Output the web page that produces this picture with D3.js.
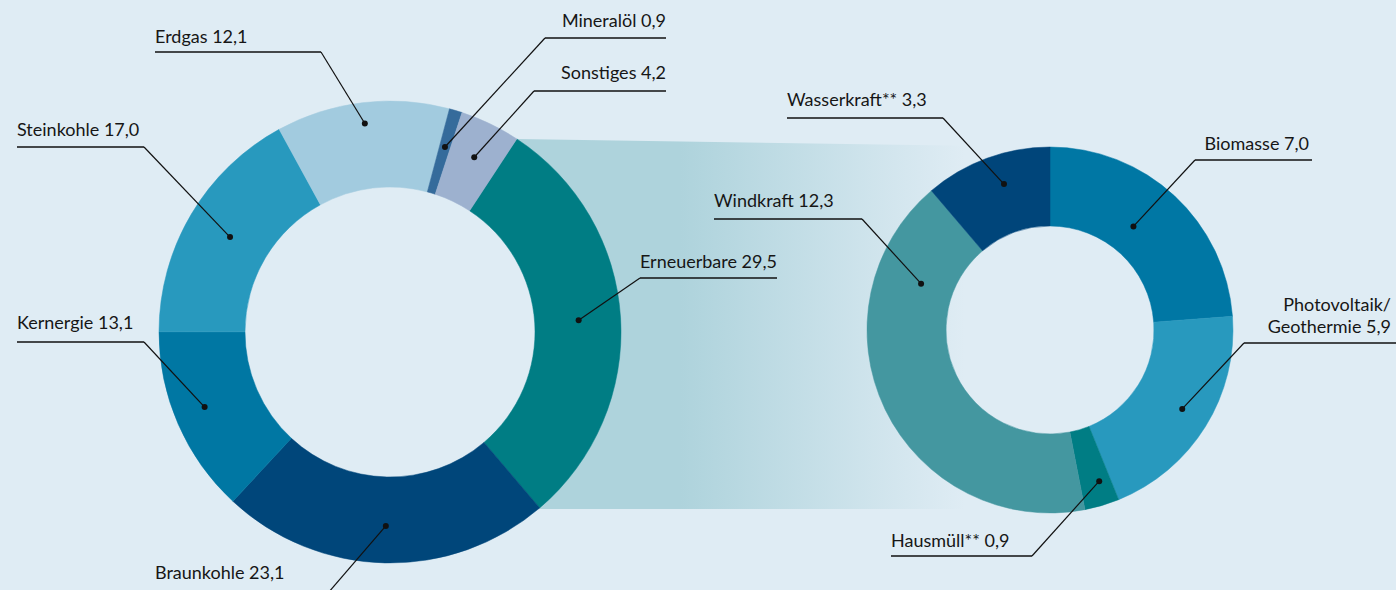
<!DOCTYPE html>
<html lang="de">
<head>
<meta charset="UTF-8">
<title>Stromerzeugung</title>
<script src="https://d3js.org/d3.v7.min.js"></script>
<style>
  html, body { margin: 0; padding: 0; background: #dfecf4; }
  svg { display: block; }
  text { font-family: Lato, "Open Sans", sans-serif; font-size: 18px; fill: #161616; }
</style>
</head>
<body>
<svg width="1396" height="590"></svg>
<script>
// Data: share of gross electricity generation (in %)
const mixLabels = ["Erneuerbare", "Braunkohle", "Kernergie", "Steinkohle", "Erdgas", "Mineralöl", "Sonstiges"];
const mixValues = [29.5, 23.1, 13.1, 17.0, 12.1, 0.9, 4.2];
const mixColors = ["#007d84", "#00467a", "#0077a3", "#2899be", "#a2cbdf", "#356b9b", "#9db1cf"];

const renewLabels = ["Biomasse", "Photovoltaik/|Geothermie", "Hausmüll**", "Windkraft", "Wasserkraft**"];
const renewValues = [7.0, 5.9, 0.9, 12.3, 3.3];
const renewColors = ["#0077a4", "#2899be", "#007d84", "#4497a0", "#00457a"];

const fmt = v => d3.format(".1f")(v).replace(".", ",");

const svg = d3.select("svg"),
    width = +svg.attr("width"),
    height = +svg.attr("height");

// donut geometry
const left = { cx: 390, cy: 332, r0: 145, r1: 231 };
const right = { cx: 1050, cy: 330, r0: 104, r1: 183 };
const rad = Math.PI / 180;

const pieLeft = d3.pie().sort(null).value(d => d)
    .startAngle(33.3 * rad).endAngle(393.3 * rad);
const pieRight = d3.pie().sort(null).value(d => d)
    .startAngle(0).endAngle(2 * Math.PI);

const arcsLeft = pieLeft(mixValues);
const arcsRight = pieRight(renewValues);

function polar(c, a, r) {
    return [c.cx + r * Math.sin(a), c.cy - r * Math.cos(a)];
}

// connecting band from "Erneuerbare" to the right donut
const grad = svg.append("defs").append("linearGradient")
    .attr("id", "band")
    .attr("gradientUnits", "userSpaceOnUse")
    .attr("x1", 680).attr("x2", 965).attr("y1", 0).attr("y2", 0);
grad.append("stop").attr("offset", 0).attr("stop-color", "#aed3dc");
grad.append("stop").attr("offset", 1).attr("stop-color", "#dfecf4");

const eStart = polar(left, arcsLeft[0].startAngle, left.r1);
const eEnd = polar(left, arcsLeft[0].endAngle, left.r1);
const bandPath = d3.path();
bandPath.moveTo(eStart[0], eStart[1]);
bandPath.lineTo(right.cx, right.cy - right.r1);
bandPath.lineTo(right.cx, eEnd[1] + 1);
bandPath.lineTo(eEnd[0], eEnd[1] + 1);
bandPath.lineTo(left.cx, left.cy);
bandPath.closePath();
svg.append("path").attr("d", bandPath.toString()).attr("fill", "url(#band)");

// hole of left donut keeps the background colour
svg.append("circle").attr("cx", left.cx).attr("cy", left.cy).attr("r", left.r0 + 1)
    .attr("fill", "#dfecf4");

const arcL = d3.arc().innerRadius(left.r0).outerRadius(left.r1);
const arcR = d3.arc().innerRadius(right.r0).outerRadius(right.r1);

svg.append("g").attr("transform", `translate(${left.cx},${left.cy})`)
    .selectAll("path").data(arcsLeft).enter().append("path")
    .attr("d", arcL)
    .attr("fill", (d, i) => mixColors[i])
    .attr("stroke", (d, i) => mixColors[i]).attr("stroke-width", 0.5);

svg.append("g").attr("transform", `translate(${right.cx},${right.cy})`)
    .selectAll("path").data(arcsRight).enter().append("path")
    .attr("d", arcR)
    .attr("fill", (d, i) => renewColors[i])
    .attr("stroke", (d, i) => renewColors[i]).attr("stroke-width", 0.5);

// label layout: text anchor point, underline from x1 to x2 at y, elbow side, dot radius/angle shift
const mixLayout = [
    { tx: 777, ty: 268, anchor: "end", x1: 640, x2: 777, y: 278, elbow: "l", r: 189, da: 0 },
    { tx: 155, ty: 579, anchor: "start", x1: 155, x2: 322, y: 600, elbow: "r", r: 194, da: 0 },
    { tx: 17, ty: 329, anchor: "start", x1: 17, x2: 144, y: 342, elbow: "r", r: 200, da: 1.5 },
    { tx: 17, ty: 136, anchor: "start", x1: 17, x2: 144, y: 147, elbow: "r", r: 186, da: 0 },
    { tx: 155, ty: 43, anchor: "start", x1: 155, x2: 321, y: 52, elbow: "r", r: 210, da: 0 },
    { tx: 666, ty: 27, anchor: "end", x1: 545, x2: 666, y: 38, elbow: "l", r: 193, da: 0 },
    { tx: 666, ty: 79, anchor: "end", x1: 534, x2: 666, y: 91, elbow: "l", r: 194, da: 0 }
];
const renewLayout = [
    { tx: 1309, ty: 150, anchor: "end", x1: 1195, x2: 1312, y: 160, elbow: "l", r: 133, da: -4 },
    { tx: 1391, ty: 311, anchor: "end", x1: 1244, x2: 1396, y: 343, elbow: "l", r: 154, da: -1 },
    { tx: 891, ty: 547, anchor: "start", x1: 891, x2: 1032, y: 556, elbow: "r", r: 159, da: -1.5 },
    { tx: 714, ty: 207, anchor: "start", x1: 714, x2: 862, y: 219, elbow: "r", r: 137, da: 45.5 },
    { tx: 787, ty: 106, anchor: "start", x1: 787, x2: 943, y: 118, elbow: "r", r: 153, da: 2.7 }
];

function drawLabels(arcs, labels, values, layout, c) {
    const g = svg.append("g");
    arcs.forEach((d, i) => {
        const L = layout[i];
        const mid = (d.startAngle + d.endAngle) / 2 + L.da * rad;
        const dot = polar(c, mid, L.r);
        const ex = L.elbow === "l" ? L.x1 : L.x2;

        g.append("line").attr("x1", L.x1).attr("x2", L.x2).attr("y1", L.y).attr("y2", L.y)
            .attr("stroke", "#111").attr("stroke-width", 1.3);
        g.append("line").attr("x1", ex).attr("y1", L.y).attr("x2", dot[0]).attr("y2", dot[1])
            .attr("stroke", "#111").attr("stroke-width", 1.2);
        g.append("circle").attr("cx", dot[0]).attr("cy", dot[1]).attr("r", 3).attr("fill", "#111");

        const parts = labels[i].split("|");
        const t = g.append("text").attr("x", L.tx).attr("y", L.ty).attr("text-anchor", L.anchor);
        parts.forEach((p, k) => {
            const last = k === parts.length - 1;
            t.append("tspan").attr("x", L.tx).attr("dy", k === 0 ? 0 : 22)
                .text(last ? p + " " + fmt(values[i]) : p);
        });
    });
}

drawLabels(arcsLeft, mixLabels, mixValues, mixLayout, left);
drawLabels(arcsRight, renewLabels, renewValues, renewLayout, right);
</script>
</body>
</html>
